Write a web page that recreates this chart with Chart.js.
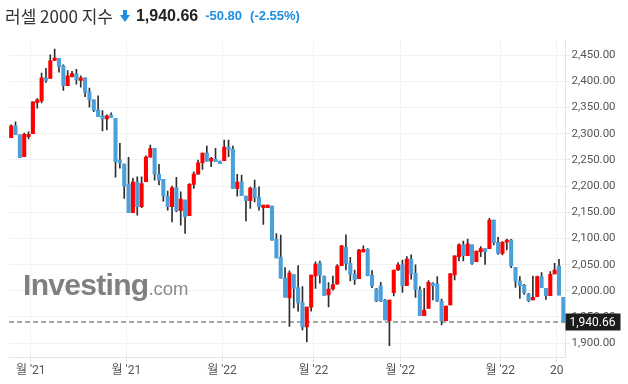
<!DOCTYPE html>
<html>
<head>
<meta charset="utf-8">
<script src="https://cdn.jsdelivr.net/npm/chart.js@4.4.1/dist/chart.umd.min.js"></script>
<style>
  html,body{margin:0;padding:0;background:#fff;}
  #wrap{position:relative;width:628px;height:384px;overflow:hidden;}
  #c{position:absolute;left:0;top:0;}
  #title{position:absolute;left:5px;top:3px;white-space:nowrap;height:24px;line-height:24px;}
  #title .name{font-family:"Noto Sans CJK KR",sans-serif;font-size:17px;color:#333;vertical-align:middle;}
  #title .arrow{display:inline-block;vertical-align:middle;margin-left:7px;margin-right:6px;}
  #title .last{font-family:"Liberation Sans",Arial,sans-serif;font-weight:bold;font-size:16px;color:#222;vertical-align:middle;}
  #title .chg{font-family:"Liberation Sans",Arial,sans-serif;font-weight:bold;font-size:13px;color:#1a8fe3;vertical-align:middle;margin-left:7px;}
  #logo{position:absolute;left:23px;top:268px;white-space:nowrap;color:#808080;}
  #logo .big{font-family:"Liberation Sans",Arial,sans-serif;font-weight:bold;font-size:30px;letter-spacing:-0.7px;}
  #logo .small{font-family:"Liberation Sans",Arial,sans-serif;font-size:18.5px;color:#8c8c8c;}
</style>
</head>
<body>
<div id="wrap">
  <canvas id="c" width="628" height="384"></canvas>
  <div id="title"><span class="name">러셀 2000 지수</span><svg class="arrow" width="10" height="12" viewBox="0 0 10 12"><rect x="3" y="0" width="4" height="6" fill="#1a8fe3"/><polygon points="0,5 10,5 5,12" fill="#1a8fe3"/></svg><span class="last">1,940.66</span><span class="chg">-50.80</span><span class="chg" style="margin-left:8px">(-2.55%)</span></div>
  <div id="logo"><span class="big">Investing</span><span class="small">.com</span></div>
</div>
<script>
// ---- data ----
const opens = [2292.7,2315,2297.8,2256.4,2294.6,2300.3,2359.5,2362.7,2406.7,2405.4,2439.8,2444,2429.6,2392,2409.2,2414.3,2401.6,2406.7,2380,2364.6,2345.5,2334,2328.3,2336,2329.6,2250,2242,2203.8,2149,2207.6,2160.5,2208.3,2255.4,2272,2223,2212.7,2180.9,2160.5,2196.8,2152.9,2173.2,2143.3,2203.2,2223,2244.6,2263,2247.8,2251.6,2247.8,2248.4,2274.5,2270.7,2195.5,2207.6,2180.9,2172,2196.2,2179,2158.6,2158.6,2161.8,2098.7,2064.3,2024.2,1986.6,2031.2,2006.3,1977.7,1931.2,1968.8,2028.6,2052.8,2028,1992.3,2003.8,2012.7,2048,2083,2052.5,2031.5,2023.2,2074.2,2079.3,2029.6,2003.5,2009.2,1982.5,1943,1996.5,2039.8,2049.4,2009.9,2060.8,2033.4,2001.6,1952.5,1966.5,2014.3,2013,1980.6,1943,1972.9,2030.2,2065.3,2087.6,2067.2,2087.6,2055.7,2074.8,2080.6,2080.6,2135.3,2092.7,2071.6,2092.7,2097.1,2044.9,2018.8,2011.1,1993.9,1982.5,1988.8,2027,2004.8,1990.8,2032.2,2047.4,1987.6];
const highs = [2317,2322.6,2297.8,2301,2303.5,2360.8,2367,2415.6,2425,2450.6,2461.5,2444,2431.5,2420.7,2419.4,2423.2,2410.5,2406.7,2387,2364.6,2372.3,2344.3,2336,2339.8,2329.6,2281.8,2242,2254.8,2214.6,2217.8,2217.8,2258,2278.3,2272,2241.4,2212.7,2190.4,2200,2216.6,2189,2173.2,2205,2227.4,2249.7,2263,2276.4,2254.8,2272,2247.8,2288,2288,2276.4,2222.3,2221,2180.9,2198,2211.5,2198.7,2163.7,2163.7,2161.8,2109.5,2106.4,2044.6,2038,2031.2,2048.4,2008.3,1968.8,2029.9,2055.4,2056.7,2028,2015.9,2028,2050.3,2087,2106.7,2064,2039.8,2079.3,2085.7,2080.5,2038.5,2004.8,2016.2,1983.7,1982.5,2039.8,2053.8,2058.9,2065.3,2068.5,2049.4,2008,2004.8,2019.4,2015.6,2027,1984.4,1971,2033.4,2066.6,2089.5,2095.2,2099,2087.6,2076,2084.4,2080.6,2138.5,2135.3,2102.2,2094,2099,2098.4,2044.9,2027,2012.4,1995,2028.3,2028.3,2034.7,2004.8,2036.6,2052.5,2060.2,1987.6];
const lows = [2292.7,2298.4,2254.4,2256.4,2290,2300.3,2348.7,2359,2397.8,2405.4,2439.8,2417.5,2382.5,2392,2408,2394.6,2388.8,2371,2350.6,2342.3,2332.8,2305.4,2307.3,2331,2216.9,2234,2176.4,2149,2149,2144.6,2158.6,2208.3,2255.4,2211.5,2202,2171.3,2154,2131.8,2151,2125.5,2109.5,2143.3,2195.5,2223,2231.8,2247.8,2237,2246.5,2242.7,2248.4,2256,2195.5,2180.9,2181.5,2133.7,2157.3,2170,2154,2126.7,2158.6,2096.8,2063,2024.2,1987.9,1931.8,1967.5,1961,1925.4,1902.5,1961,2004.4,2014.6,1991,1969.4,2001.3,2012.7,2048,2039.8,2018.8,2012.4,2023.2,2074.2,2028.4,2006,1979.3,1979.3,1944.3,1895.2,1990.1,2038.5,1997,2009.9,2022,1987.6,1952.5,1952.5,1966.5,1982.5,1979.3,1934.7,1943,1972.9,2020.7,2057,2057,2067.2,2050.6,2055.7,2065.3,2050.6,2080.6,2087.6,2069.7,2068.5,2078,2044.3,2006.7,1985.7,1993.3,1979.3,1982.5,1988.8,2006,1983.8,1990.8,2032.2,1992,1940.66];
const closes = [2315,2298.4,2254.4,2299,2299,2360.8,2364.6,2406.7,2401.6,2439,2444.3,2428,2392,2410.5,2415,2402.9,2406.7,2378.7,2364.6,2344.3,2332.8,2328.3,2334,2331,2246.8,2243.6,2200,2149,2207.6,2160.5,2205,2255.4,2272,2223,2211.5,2180.9,2160.5,2196.8,2152.9,2175.1,2141.4,2203.2,2223,2244.6,2263,2247.8,2252.9,2246.5,2242.7,2274.5,2269.4,2195.5,2207.6,2181.5,2172,2196.2,2177.7,2160.5,2163.7,2163.7,2096.8,2063,2024.2,1987.9,2033.7,2004.4,1977,1931.2,1968.8,2029.9,2051,2029.9,1991,2003.2,2012.1,2047.1,2085.7,2052.5,2031.5,2020.7,2078,2079.3,2029,2009.9,1980.6,1980.6,1944.3,1982.5,2039.8,2049.4,2009.9,2060.8,2032.2,2002.9,1952.5,1963.3,2016.2,2009.9,1980.6,1943,1971,2032.2,2066.6,2087.6,2067.2,2089.5,2052.5,2076,2080.6,2074.8,2135.3,2092,2071.6,2092.7,2097.1,2047.4,2018.8,2009.9,1996.5,1981.2,1987.6,2027,2006,1990.8,2031.5,2039.8,1991.46,1940.66];
const xTickLabels = ["월 '21","월 '21","월 '22","월 '22","월 '22","월 '22","20"];
const xTickAt = [4.5, 26.5, 48.5, 69.5, 89.5, 112.5, 125.5];
const yTickValues = [1900,1950,2000,2050,2100,2150,2200,2250,2300,2350,2400,2450];
const lastPrice = closes[closes.length - 1];

// ---- build datasets ----
const UP = '#ff0000', DOWN = '#4ba0dc';
const bodies = opens.map((o, i) => ({x: i, y: [o, closes[i]]}));
const wicks = opens.map((o, i) => ({x: i, y: [lows[i], highs[i]]}));
const bodyColors = opens.map((o, i) => closes[i] >= o ? UP : DOWN);
const n = opens.length;

const fmt2 = v => Number(v).toLocaleString('en-US', {minimumFractionDigits: 2, maximumFractionDigits: 2});

const priceTag = {
  id: 'priceTag',
  afterDraw(chart) {
    const {ctx, chartArea, scales} = chart;
    const y = scales.y.getPixelForValue(lastPrice);
    ctx.save();
    ctx.fillStyle = '#1c1c1c';
    ctx.fillRect(chartArea.right, Math.round(y) - 8.5, 55, 17);
    ctx.fillStyle = '#ffffff';
    ctx.font = '12px Roboto, "Liberation Sans", sans-serif';
    ctx.textBaseline = 'middle';
    ctx.textAlign = 'left';
    ctx.fillText(fmt2(lastPrice), chartArea.right + 4, Math.round(y) + 0.5);
    ctx.restore();
  }
};

Chart.defaults.font.family = 'Roboto, "Noto Sans CJK KR", sans-serif';
Chart.defaults.color = '#555';

new Chart(document.getElementById('c'), {
  type: 'bar',
  data: {
    datasets: [
      {type: 'bar', data: bodies, backgroundColor: bodyColors, barThickness: 3.4, grouped: false, minBarLength: 1, order: 0},
      {type: 'bar', data: wicks, backgroundColor: '#2e2e2e', barThickness: 1, grouped: false, order: 1},
      {type: 'line', data: [{x: -0.5, y: lastPrice}, {x: n - 0.5, y: lastPrice}], borderColor: '#8a8a8a', borderDash: [5, 3], borderWidth: 1.5, pointRadius: 0, order: 2}
    ]
  },
  options: {
    responsive: false,
    animation: false,
    devicePixelRatio: 1,
    layout: {padding: {left: 9, top: 40, right: 0, bottom: 0}},
    plugins: {legend: {display: false}, tooltip: {enabled: false}, title: {display: false}},
    scales: {
      x: {
        type: 'linear', min: -0.5, max: n - 0.5, offset: false,
        grid: {offset: false, color: '#f2f2f2', tickColor: '#e3e3e3', tickLength: 5},
        border: {color: '#e0e3e8'},
        ticks: {autoSkip: false, maxRotation: 0, padding: 2, font: {size: 12}, color: '#555',
                callback: (v, i) => xTickLabels[i]},
        afterBuildTicks: s => { s.ticks = xTickAt.map(v => ({value: v})); },
        afterFit: s => { s.height = 27; }
      },
      y: {
        type: 'linear', position: 'right', min: 1873.6, max: 2479,
        grid: {color: '#f2f2f2', tickColor: '#e3e3e3', tickLength: 4},
        border: {color: '#e0e3e8'},
        ticks: {padding: 2, font: {size: 11.5}, color: '#555', callback: v => fmt2(v)},
        afterBuildTicks: s => { s.ticks = yTickValues.map(v => ({value: v})); },
        afterFit: s => { s.width = 62.5; }
      }
    }
  },
  plugins: [priceTag]
});
</script>
</body>
</html>
